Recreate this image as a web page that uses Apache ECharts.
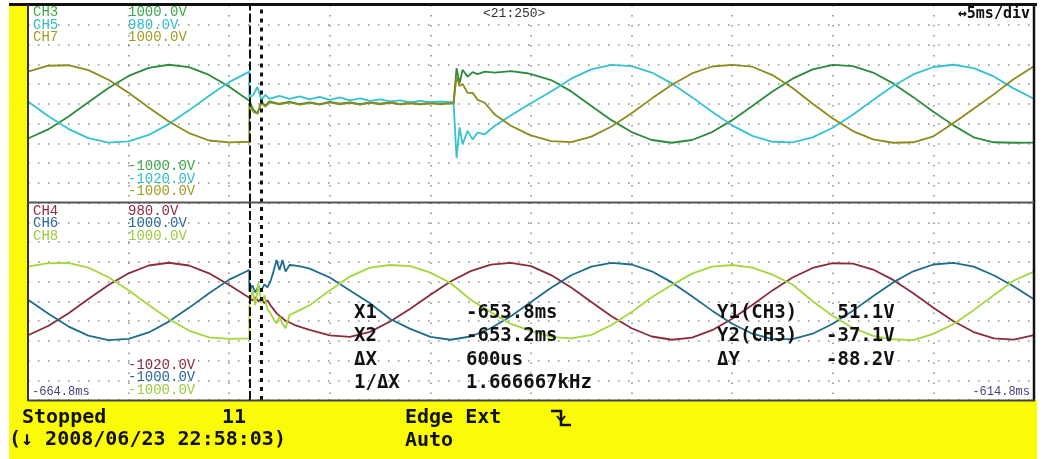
<!DOCTYPE html>
<html>
<head>
<meta charset="utf-8">
<script src="https://cdn.jsdelivr.net/npm/echarts@6.0.0/dist/echarts.min.js"></script>
<style>
  html, body { margin: 0; padding: 0; background: #fff; }
  #scope { width: 1043px; height: 459px; }
</style>
</head>
<body>
<div id="scope"></div>
<script>
// time = ms after the left edge of the screen (-664.8 ms), 5 ms/div
// volts, 200 V per dotted row
const topT = [0, 1, 2, 3, 4, 5, 6, 7, 8, 9, 10, 11,
  11, 11.2, 11.4, 11.6, 11.8, 12, 12.5, 13, 13.5, 14, 14.5, 15, 15.5, 16, 16.5, 17, 17.5, 18, 18.5, 19, 19.5, 20, 20.5, 21, 21.15,
  21.15, 21.3, 21.45, 21.6, 21.85, 22.1, 22.35, 22.7, 23.2, 24, 24.8,
  25, 26, 27, 28, 29, 30, 31, 32, 33, 34, 35, 36, 37, 38, 39, 40, 41, 42, 43, 44, 45, 46, 47, 48, 49, 50]
const ch3 = [-352, -260, -132, 15, 160, 282, 364, 395, 370, 292, 173, 30,
  10, -60, -100, 20, -20, 25, 0, 20, -5, 15, -5, 20, 0, 15, -5, 15, 0, 15, -5, 10, -5, 10, 0, 10, 5,
  5, 361, 206, 344, 275, 320, 300, 325, 315, 330, 309,
  300, 240, 125, -23, -166, -287, -367, -395, -367, -287, -166, -23, 125, 254, 348, 393, 381, 316, 206, 67, -81, -219, -340, -390, -395, -393]
const ch5 = [23, -125, -254, -348, -393, -381, -316, -206, -67, 81, 219, 325,
  60, 90, 170, 40, 90, 50, 80, 50, 75, 45, 70, 40, 65, 35, 55, 30, 45, 25, 35, 15, 30, 15, 25, 15, 20,
  20, -550, -240, -412, -275, -361, -292, -309, -223, -120, -17,
  5, 125, 254, 348, 393, 381, 316, 206, 67, -81, -219, -325, -385, -391, -341, -243, -111, 37, 180, 297, 372, 395, 361, 277, 153, 50]
const ch7 = [325, 385, 390, 341, 243, 111, -37, -180, -297, -372, -392, -385,
  0, -80, -100, 10, -30, 15, -5, 15, -10, 10, -10, 15, -5, 10, -10, 10, -5, 10, -5, 5, -5, 5, -5, 5, 0,
  0, 275, 180, 200, 110, 110, 40, 10, -110, -223, -302,
  -320, -378, -388, -333, -231, -96, 52, 193, 307, 377, 394, 375, 290, 160, 0, -150, -277, -361, -395, -390, -330, -195, -50, 95, 250, 380]

const botT = [0, 1, 2, 3, 4, 5, 6, 7, 8, 9, 10, 11,
  11, 11.15, 11.3, 11.45, 11.6, 11.75, 11.9, 12.05, 12.2, 12.35, 12.5, 12.65, 12.8, 13, 13.3, 13.6, 14,
  15, 16, 17, 18, 19, 20, 21, 22, 23, 24, 25, 26, 27, 28, 29, 30, 31, 32, 33, 34, 35, 36, 37, 38, 39, 40, 41, 42, 43, 44, 45, 46, 47, 48, 49, 50]
const ch4 = [-344, -251, -123, 22, 164, 283, 362, 390, 362, 283, 164, 35,
  35, 10, 40, 0, 30, -20, 10, -40, -80, -120, -150, -170, -200, -215, -245, -265, -290,
  -345, -360, -310, -205, -75, 65, 200, 305, 370, 388, 355, 265, 140, -7, -151, -273, -357, -390, -368, -293, -178, -37, 110, 240, 337, 385, 380, 321, 216, 80, -66, -203, -312, -376, -388, -344]
const ch6 = [15, -125, -254, -348, -393, -381, -316, -206, -67, 81, 219, 317,
  100, 160, 90, 150, 110, 170, 140, 200, 300, 418, 317, 418, 300, 367, 360, 350, 330,
  240, 110, -20, -180, -280, -360, -390, -357, -273, -151, -7, 137, 263, 351, 389, 372, 303, 191, 51, -95, -228, -329, -383, -383, -329, -228, -95, 51, 191, 303, 372, 389, 351, 263, 150, 20]
const ch8 = [350, 385, 388, 341, 243, 111, -37, -180, -297, -365, -380, -376,
  -55, 114, -40, 181, -20, 60, -80, -120, -180, -224, -156, -230, -274, -139, -110, -80, -40,
  110, 250, 340, 367, 355, 290, 185, 15, -110, -230, -300, -360, -376, -340, -240, -110, 40, 165, 280, 350, 367, 340, 270, 170, 0, -150, -270, -350, -385, -393, -330, -230, -90, 60, 210, 300]

const cursorT = [11.0, 11.6] // X1 = -653.8ms, X2 = -653.2ms

// scale labels: [name, top value, bottom value, colour]
const topScale = [
  ['CH3', '1000.0V', '-1000.0V', '#3aa84a'],
  ['CH5', '980.0V', '-1020.0V', '#2fbccc'],
  ['CH7', '1000.0V', '-1000.0V', '#a39b22']
]
const botScale = [
  ['CH4', '980.0V', '-1020.0V', '#8c2c40'],
  ['CH6', '1000.0V', '-1000.0V', '#25699a'],
  ['CH8', '1000.0V', '-1000.0V', '#9ccc3c']
]
const readout = [
  ['X1', '-653.8ms', 'Y1(CH3)', ' 51.1V'],
  ['X2', '-653.2ms', 'Y2(CH3)', '-37.1V'],
  ['ΔX', '600us', 'ΔY', '-88.2V'],
  ['1/ΔX', '1.666667kHz', '', '']
]

const traceColor = {
  ch3: '#2a8c3c', ch5: '#35c2d2', ch7: '#8e8a1c',
  ch4: '#8a2c3c', ch6: '#1e6c8e', ch8: '#a6d63e'
}

const chart = echarts.init(document.getElementById('scope'), null, { renderer: 'canvas' })

const dots = { show: true, lineStyle: { color: '#8a8a8a', width: 1.5, type: [1.5, 8.5] } }

function xAxis(gridIndex) {
  return {
    type: 'value', gridIndex, min: 0, max: 50, interval: 5,
    axisLine: { show: false }, axisTick: { show: false }, axisLabel: { show: false },
    splitLine: dots
  }
}
function yAxis(gridIndex) {
  return {
    type: 'value', gridIndex, min: -1000, max: 1000, interval: 200,
    axisLine: { show: false }, axisTick: { show: false }, axisLabel: { show: false },
    splitLine: dots
  }
}

function cursors() {
  return {
    silent: true,
    symbol: ['none', 'none'],
    label: { show: false },
    data: [
      { xAxis: cursorT[0], lineStyle: { color: '#111', width: 2, type: [9, 3] } },
      { xAxis: cursorT[1], lineStyle: { color: '#111', width: 3, type: [4, 5] } }
    ]
  }
}

function trace(name, t, v, color, idx, mark) {
  const s = {
    name, type: 'line', xAxisIndex: idx, yAxisIndex: idx,
    data: t.map((x, i) => [x, v[i]]),
    showSymbol: false, symbol: 'none',
    lineStyle: { color, width: 1.8 },
    itemStyle: { color },
    z: 3
  }
  if (mark) s.markLine = cursors()
  return s
}

const monoS = '"Liberation Mono", "DejaVu Sans Mono", monospace'
const monoB = '"DejaVu Sans Mono", monospace'

function txt(x, y, text, fill, font, align) {
  return {
    type: 'text', x, y, z: 50, silent: true,
    style: { text, fill, font, align: align || 'left', textAlign: align || 'left', verticalAlign: 'middle', textVerticalAlign: 'middle' }
  }
}

const graphics = [
  // yellow frame
  { type: 'rect', shape: { x: 9, y: 5, width: 19, height: 396 }, style: { fill: '#fbfb08' }, z: 40 },
  { type: 'rect', shape: { x: 9, y: 400, width: 1028, height: 59 }, style: { fill: '#fbfb08' }, z: 40 },
  // borders
  { type: 'rect', shape: { x: 9, y: 3, width: 1028, height: 3 }, style: { fill: '#111' }, z: 41 },
  { type: 'line', shape: { x1: 28, y1: 5, x2: 28, y2: 401 }, style: { stroke: '#333', lineWidth: 2 }, z: 41 },
  { type: 'line', shape: { x1: 1034, y1: 5, x2: 1034, y2: 401 }, style: { stroke: '#111', lineWidth: 2.5 }, z: 41 },
  { type: 'line', shape: { x1: 28, y1: 400.5, x2: 1035, y2: 400.5 }, style: { stroke: '#444', lineWidth: 2 }, z: 41 },
  { type: 'line', shape: { x1: 28, y1: 202.5, x2: 1034, y2: 202.5 }, style: { stroke: '#555', lineWidth: 2 }, z: 41 }
]

topScale.forEach((c, i) => {
  graphics.push(txt(33, 12 + i * 12.8, c[0], c[3], '14px ' + monoS))
  graphics.push(txt(128, 12 + i * 12.8, c[1], c[3], '14px ' + monoS))
  graphics.push(txt(128, 166 + i * 12.8, c[2], c[3], '14px ' + monoS))
})
botScale.forEach((c, i) => {
  graphics.push(txt(33, 211 + i * 12.5, c[0], c[3], '14px ' + monoS))
  graphics.push(txt(128, 211 + i * 12.5, c[1], c[3], '14px ' + monoS))
  graphics.push(txt(128, 365 + i * 12.5, c[2], c[3], '14px ' + monoS))
})
graphics.push(txt(32, 392, '-664.8ms', '#4a3c7c', '12px ' + monoS))
graphics.push(txt(1030, 392, '-614.8ms', '#4a3c7c', '12px ' + monoS, 'right'))
graphics.push(txt(483, 14, '<21:250>', '#333', '13px ' + monoS))
graphics.push(txt(1030, 14, '↔5ms/div', '#111', 'bold 15px ' + monoB, 'right'))

readout.forEach((r, i) => {
  const y = 313 + i * 23.5
  graphics.push(txt(354, y, r[0], '#111', 'bold 19px ' + monoB))
  graphics.push(txt(466, y, r[1], '#111', 'bold 19px ' + monoB))
  if (r[2]) graphics.push(txt(717, y, r[2], '#111', 'bold 19px ' + monoB))
  if (r[3]) graphics.push(txt(826, y, r[3], '#111', 'bold 19px ' + monoB))
})

graphics.push(txt(22, 418, 'Stopped', '#111', 'bold 20px ' + monoB))
graphics.push(txt(222, 418, '11', '#111', 'bold 20px ' + monoB))
graphics.push(txt(9, 440, '(↓ 2008/06/23 22:58:03)', '#111', 'bold 20px ' + monoB))
graphics.push(txt(405, 418, 'Edge Ext', '#111', 'bold 20px ' + monoB))
graphics.push(txt(405, 441, 'Auto', '#111', 'bold 20px ' + monoB))
// falling-edge trigger icon
graphics.push({
  type: 'polyline', z: 50,
  shape: { points: [[551, 411], [561, 411], [561, 425], [571, 425]] },
  style: { stroke: '#111', lineWidth: 2.5, fill: null }
})
graphics.push({
  type: 'polyline', z: 50,
  shape: { points: [[557, 416], [561, 421], [565, 416]] },
  style: { stroke: '#111', lineWidth: 2, fill: null }
})

chart.setOption({
  animation: false,
  backgroundColor: '#fff',
  grid: [
    { left: 28, top: 5, width: 1006, height: 197.5 },
    { left: 28, top: 202.5, width: 1006, height: 197.5 }
  ],
  xAxis: [xAxis(0), xAxis(1)],
  yAxis: [yAxis(0), yAxis(1)],
  series: [
    trace('CH3', topT, ch3, traceColor.ch3, 0, true),
    trace('CH5', topT, ch5, traceColor.ch5, 0, false),
    trace('CH7', topT, ch7, traceColor.ch7, 0, false),
    trace('CH4', botT, ch4, traceColor.ch4, 1, true),
    trace('CH6', botT, ch6, traceColor.ch6, 1, false),
    trace('CH8', botT, ch8, traceColor.ch8, 1, false)
  ],
  graphic: graphics
})
</script>
</body>
</html>
